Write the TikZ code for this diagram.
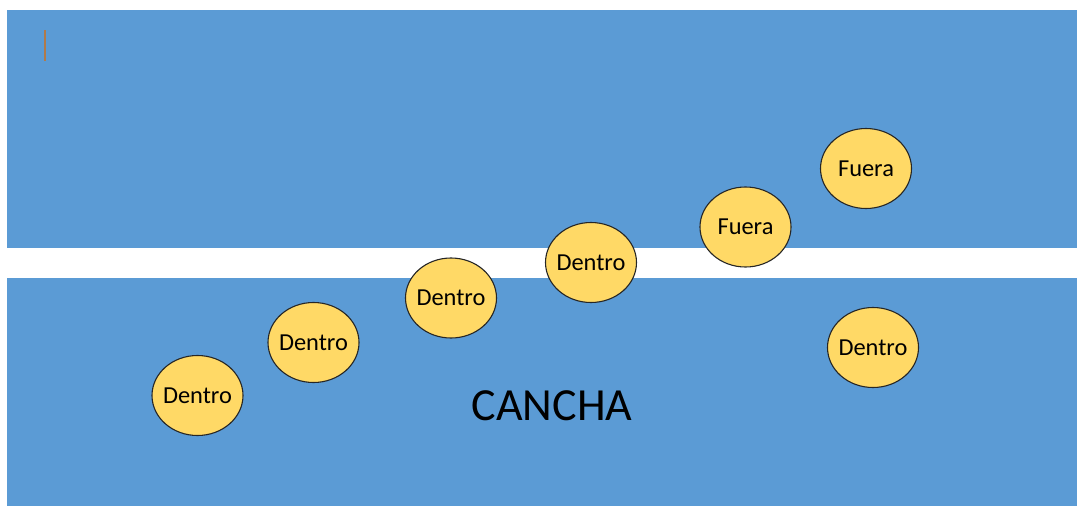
\documentclass[tikz,border=0pt]{standalone}
\usepackage{fontspec}
\setmainfont{Carlito}
\usetikzlibrary{shapes.geometric}
\definecolor{field}{HTML}{5B9BD5}
\definecolor{ball}{HTML}{FFD966}
\definecolor{cursor}{HTML}{B07A4A}
\newcommand{\balltext}[1]{\makebox[0pt]{\raisebox{-1.5pt}{#1}}}
\tikzset{
  ballnode/.style={ellipse, draw=black!85, line width=1.1pt, fill=ball,
    minimum width=91pt, minimum height=80pt, inner sep=0pt,
    font=\fontsize{24.4}{28}\selectfont},
  zone/.style={fill=field, draw=none}
}
\begin{document}
\begin{tikzpicture}[x=1pt,y=-1pt]
\useasboundingbox[fill=white] (0,0) rectangle (1077,506);
\fill[zone] (7,10) rectangle (1077,247.5);
\fill[zone] (7,278) rectangle (1077,506);
\coordinate (c1) at (45,30);
\coordinate (c2) at (45,61);
\draw[cursor, line width=1.3pt] (c1) -- (c2);
\node[font=\fontsize{46}{52}\selectfont] (cancha) at (552,406) {CANCHA};
\node[ballnode] (d1) at (197.5,395.5) {\balltext{Dentro}};
\node[ballnode] (d2) at (313.5,342.5) {\balltext{Dentro}};
\node[ballnode] (d3) at (451,298) {\balltext{Dentro}};
\node[ballnode] (d4) at (591,262.5) {\balltext{Dentro}};
\node[ballnode] (f1) at (745.5,227) {\balltext{Fuera}};
\node[ballnode] (f2) at (866,168.5) {\balltext{Fuera}};
\node[ballnode] (d5) at (873,347.5) {\balltext{Dentro}};
\end{tikzpicture}
\end{document}
